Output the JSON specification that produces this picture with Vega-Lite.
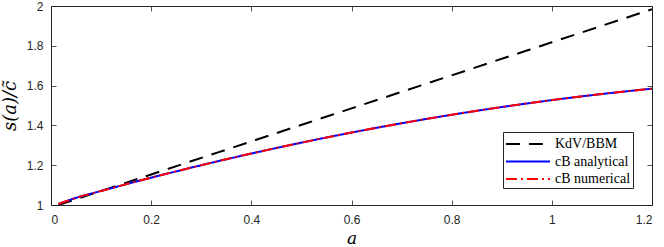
{
  "$schema": "https://vega.github.io/schema/vega-lite/v6.json",
  "width": 601,
  "height": 199,
  "autosize": "none",
  "padding": {"left": 51, "top": 6, "right": 12, "bottom": 42},
  "background": "white",
  "config": {
    "view": {"stroke": "#262626", "strokeWidth": 1},
    "axis": {
      "domain": false,
      "grid": false,
      "tickSize": -5,
      "tickColor": "#262626",
      "tickWidth": 0.8,
      "labelFont": "Liberation Sans",
      "labelFontSize": 12,
      "labelColor": "#262626",
      "titleFont": "DejaVu Serif",
      "titleFontStyle": "italic",
      "titleFontWeight": "normal",
      "titleColor": "#000000"
    },
    "legend": {
      "labelFont": "Liberation Serif",
      "labelFontSize": 14,
      "labelColor": "#000000"
    }
  },
  "data": {
    "values": [
      {"series": "KdV/BBM", "a": 0.015, "s": 1.0},
      {"series": "KdV/BBM", "a": 0.2, "s": 1.1536},
      {"series": "KdV/BBM", "a": 0.4, "s": 1.3196},
      {"series": "KdV/BBM", "a": 0.6, "s": 1.4856},
      {"series": "KdV/BBM", "a": 0.8, "s": 1.6516},
      {"series": "KdV/BBM", "a": 1.0, "s": 1.8176},
      {"series": "KdV/BBM", "a": 1.2, "s": 1.9836},
      {"series": "cB analytical", "a": 0.015, "s": 1.005},
      {"series": "cB analytical", "a": 0.05, "s": 1.036},
      {"series": "cB analytical", "a": 0.1, "s": 1.0706},
      {"series": "cB analytical", "a": 0.15, "s": 1.1044},
      {"series": "cB analytical", "a": 0.2, "s": 1.1372},
      {"series": "cB analytical", "a": 0.3, "s": 1.1999},
      {"series": "cB analytical", "a": 0.4, "s": 1.2586},
      {"series": "cB analytical", "a": 0.5, "s": 1.3133},
      {"series": "cB analytical", "a": 0.6, "s": 1.364},
      {"series": "cB analytical", "a": 0.7, "s": 1.4107},
      {"series": "cB analytical", "a": 0.8, "s": 1.4534},
      {"series": "cB analytical", "a": 0.9, "s": 1.4922},
      {"series": "cB analytical", "a": 1.0, "s": 1.527},
      {"series": "cB analytical", "a": 1.1, "s": 1.5578},
      {"series": "cB analytical", "a": 1.2, "s": 1.5846},
      {"series": "cB numerical", "a": 0.015, "s": 1.005},
      {"series": "cB numerical", "a": 0.05, "s": 1.036},
      {"series": "cB numerical", "a": 0.1, "s": 1.0706},
      {"series": "cB numerical", "a": 0.15, "s": 1.1044},
      {"series": "cB numerical", "a": 0.2, "s": 1.1372},
      {"series": "cB numerical", "a": 0.3, "s": 1.1999},
      {"series": "cB numerical", "a": 0.4, "s": 1.2586},
      {"series": "cB numerical", "a": 0.5, "s": 1.3133},
      {"series": "cB numerical", "a": 0.6, "s": 1.364},
      {"series": "cB numerical", "a": 0.7, "s": 1.4107},
      {"series": "cB numerical", "a": 0.8, "s": 1.4534},
      {"series": "cB numerical", "a": 0.9, "s": 1.4922},
      {"series": "cB numerical", "a": 1.0, "s": 1.527},
      {"series": "cB numerical", "a": 1.1, "s": 1.5578},
      {"series": "cB numerical", "a": 1.2, "s": 1.5846}
    ]
  },
  "layer": [
    {
      "mark": {"type": "line", "strokeWidth": 2, "interpolate": "monotone", "clip": true},
      "encoding": {
        "x": {
          "field": "a", "type": "quantitative",
          "scale": {"domain": [0, 1.2], "nice": false, "zero": false},
          "axis": {"orient": "bottom", "values": [0, 0.2, 0.4, 0.6, 0.8, 1, 1.2], "format": "~g", "labelPadding": 14, "title": "a", "titleFontSize": 17, "titlePadding": 5}
        },
        "y": {
          "field": "s", "type": "quantitative",
          "scale": {"domain": [1, 2], "nice": false, "zero": false},
          "axis": {"orient": "left", "values": [1, 1.2, 1.4, 1.6, 1.8, 2], "format": "~g", "labelPadding": 13, "title": "s(a)/c̃", "titleFontSize": 18, "titlePadding": 7}
        },
        "color": {
          "field": "series", "type": "nominal",
          "scale": {"domain": ["KdV/BBM", "cB analytical", "cB numerical"], "range": ["#000000", "#0000ff", "#ff0000"]},
          "legend": {
            "title": null,
            "orient": "none",
            "legendX": 452,
            "legendY": 126,
            "direction": "vertical",
            "symbolType": "M-2.45,0H2.45",
            "symbolSize": 324,
            "symbolStrokeWidth": 2,
            "symbolOffset": 13,
            "labelFont": "Liberation Serif",
            "labelFontSize": 14,
            "labelColor": "#000000",
            "labelOffset": 17,
            "rowPadding": 0.5,
            "padding": 2,
            "strokeColor": "#262626",
            "fillColor": "white",
            "cornerRadius": 0
          }
        },
        "strokeDash": {
          "field": "series", "type": "nominal",
          "scale": {"domain": ["KdV/BBM", "cB analytical", "cB numerical"], "range": [[14, 9], [1, 0], [11, 4, 2, 4]]},
          "legend": null
        }
      }
    },
    {
      "mark": {"type": "line", "opacity": 0},
      "encoding": {
        "x": {"field": "a", "type": "quantitative", "axis": {"orient": "top", "values": [0, 0.2, 0.4, 0.6, 0.8, 1, 1.2], "labels": false, "title": null}},
        "y": {"field": "s", "type": "quantitative", "axis": {"orient": "right", "values": [1, 1.2, 1.4, 1.6, 1.8, 2], "labels": false, "title": null}}
      }
    }
  ],
  "resolve": {"axis": {"x": "independent", "y": "independent"}}
}
